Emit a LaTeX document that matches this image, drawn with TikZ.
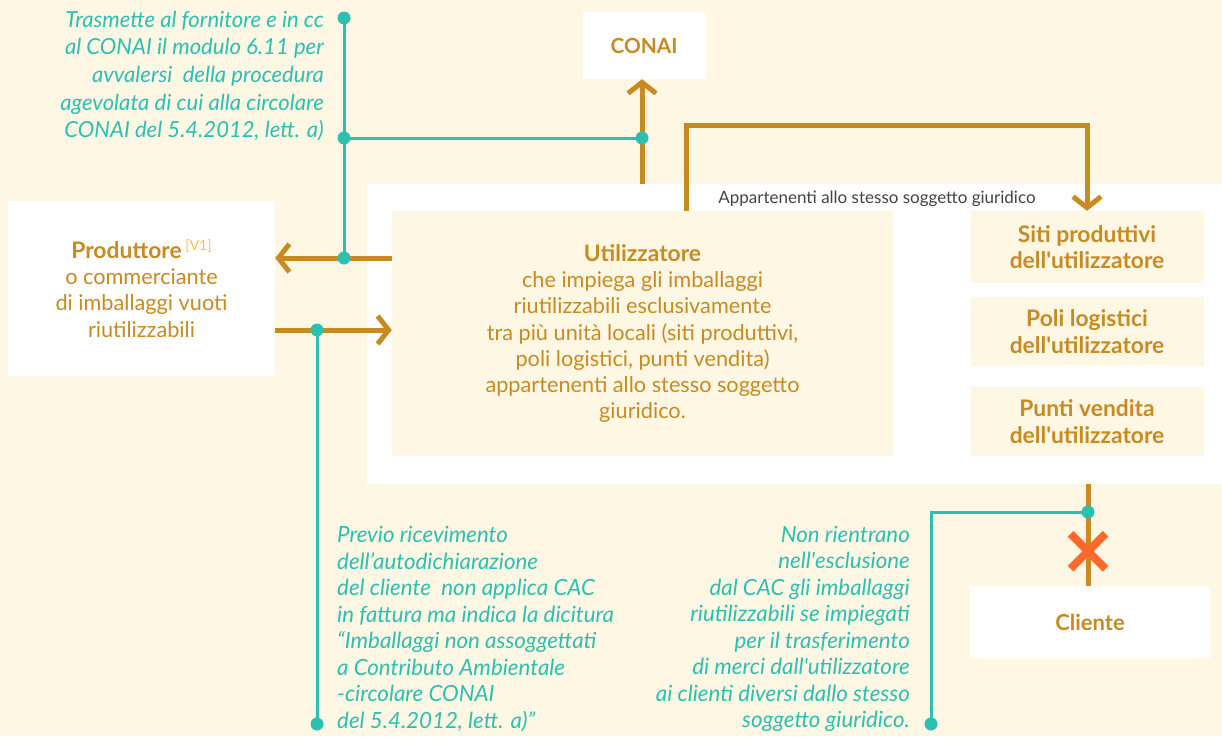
\documentclass[tikz,border=0pt]{standalone}
\usepackage{fontspec}
\setmainfont{Lato}
\usetikzlibrary{arrows.meta, shapes.misc}

\definecolor{cream}{HTML}{FEF7E3}
\definecolor{ocra}{HTML}{C98A22}
\definecolor{acqua}{HTML}{2DBFB1}
\definecolor{rosso}{HTML}{FF6A2C}
\definecolor{chiaro}{HTML}{F9BE5A}
\definecolor{grigio}{HTML}{444444}

\begin{document}
\begin{tikzpicture}[x=1pt, y=-1pt,
  box/.style={fill=white, text=ocra, align=center, inner sep=0pt,
    font=\fontsize{21.7}{26.3}\selectfont},
  subbox/.style={box, fill=cream, font=\fontsize{22.8}{26.3}\selectfont\bfseries},
  flow/.style={draw=ocra, line width=5pt},
  flowarrow/.style={-{Straight Barb[length=11pt, width=28pt]}},
  link/.style={draw=acqua, line width=3pt},
  note/.style={text=acqua, inner sep=0pt,
    font=\fontsize{22.3}{26.5}\selectfont\itshape}]
  \fill[cream] (0,0) rectangle (1222,736);
  \useasboundingbox (0,0) rectangle (1222,736);

  % riquadro bianco delle unita' locali
  \node[fill=white, minimum width=855, minimum height=300, inner sep=0pt] (area) at (794.5,334) {};
  \node[text=grigio, font=\fontsize{17}{18}\selectfont] (appart) at (877,199)
    {Appartenenti allo stesso soggetto giuridico};

  \node[box, minimum width=123, minimum height=67, font=\fontsize{20.8}{23}\selectfont\bfseries]
    (conai) at (644,45.5) {CONAI};
  \node[box, minimum width=267, minimum height=175] (prod) at (141.5,288.5)
    {{\fontsize{22.8}{26.3}\selectfont\bfseries Produttore}\,\raisebox{8pt}{\fontsize{14}{14}\selectfont\color{chiaro}[V1]}\\
     o commerciante\\ di imballaggi vuoti\\ riutilizzabili};
  \node[box, fill=cream, minimum width=501, minimum height=245] (util) at (642.5,333.5)
    {{\fontsize{22.8}{26.3}\selectfont\bfseries Utilizzatore}\\ che impiega gli imballaggi\\ riutilizzabili esclusivamente\\
     tra più unità locali (siti produttivi,\\ poli logistici, punti vendita)\\
     appartenenti allo stesso soggetto\\ giuridico.};
  \node[subbox, minimum width=233, minimum height=72] (siti) at (1087,247)
    {Siti produttivi\\ dell\textquotesingle utilizzatore};
  \node[subbox, minimum width=233, minimum height=69] (poli) at (1087,331.5)
    {Poli logistici\\ dell\textquotesingle utilizzatore};
  \node[subbox, minimum width=233, minimum height=69] (punti) at (1087,421.5)
    {Punti vendita\\ dell\textquotesingle utilizzatore};
  \node[box, minimum width=240, minimum height=72, font=\fontsize{22}{23}\selectfont\bfseries]
    (cliente) at (1090,622) {Cliente};

  % flussi
  \coordinate (n1) at (344,18);
  \coordinate (n2) at (344,138);
  \coordinate (n3) at (344,258);
  \coordinate (n4) at (642,138);
  \coordinate (s1) at (317,330);
  \coordinate (s2) at (317,724);
  \coordinate (c1) at (1088,512);
  \coordinate (c2) at (931,724);
  \coordinate (b1) at (686,125);

  \draw[flow, flowarrow] (area.north -| n4) -- (conai.south -| n4);
  \draw[flow, flowarrow] (util.west |- n3) -- (prod.east |- n3);
  \draw[flow, flowarrow] (prod.east |- s1) -- (util.west |- s1);
  \draw[flow, flowarrow] (util.north -| b1) -- (b1) -| (siti.north);
  \draw[flow] (area.south -| c1) -- (cliente.north -| c1)
    node[pos=0.66, cross out, draw=rosso, line width=8pt, minimum size=27pt] (stop) {};

  % note
  \draw[link] (n1) -- (n3);
  \draw[link] (n2) -- (n4);
  \draw[link] (s1) -- (s2);
  \draw[link] (c1) -| (c2);
  \foreach \p in {n1,n2,n3,n4,s1,s2,c1,c2}
    \fill[acqua] (\p) circle (6.5);

  \node[note, align=right, anchor=east, font=\fontsize{22.1}{27.7}\selectfont\itshape]
    (trasm) at (324,76)
    {Trasmette al fornitore e in cc\\ al CONAI il modulo 6.11 per\\
     avvalersi\ \ della procedura\\ agevolata di cui alla circolare\\
     CONAI del 5.4.2012, lett. a)};
  \node[note, align=left, anchor=west] (previo) at (337,629)
    {Previo ricevimento\\ dell’autodichiarazione\\ del cliente\ \ non applica CAC\\
     in fattura ma indica la dicitura\\ “Imballaggi non assoggettati\\
     a Contributo Ambientale\\ -circolare CONAI\\ del 5.4.2012, lett. a)”};
  \node[note, align=right, anchor=east] (esclus) at (910,629)
    {Non rientrano\\ nell\textquotesingle esclusione\\ dal CAC gli imballaggi\\
     riutilizzabili se impiegati\\ per il trasferimento\\
     di merci dall\textquotesingle utilizzatore\\ ai clienti diversi dallo stesso\\
     soggetto giuridico.};
\end{tikzpicture}
\end{document}
